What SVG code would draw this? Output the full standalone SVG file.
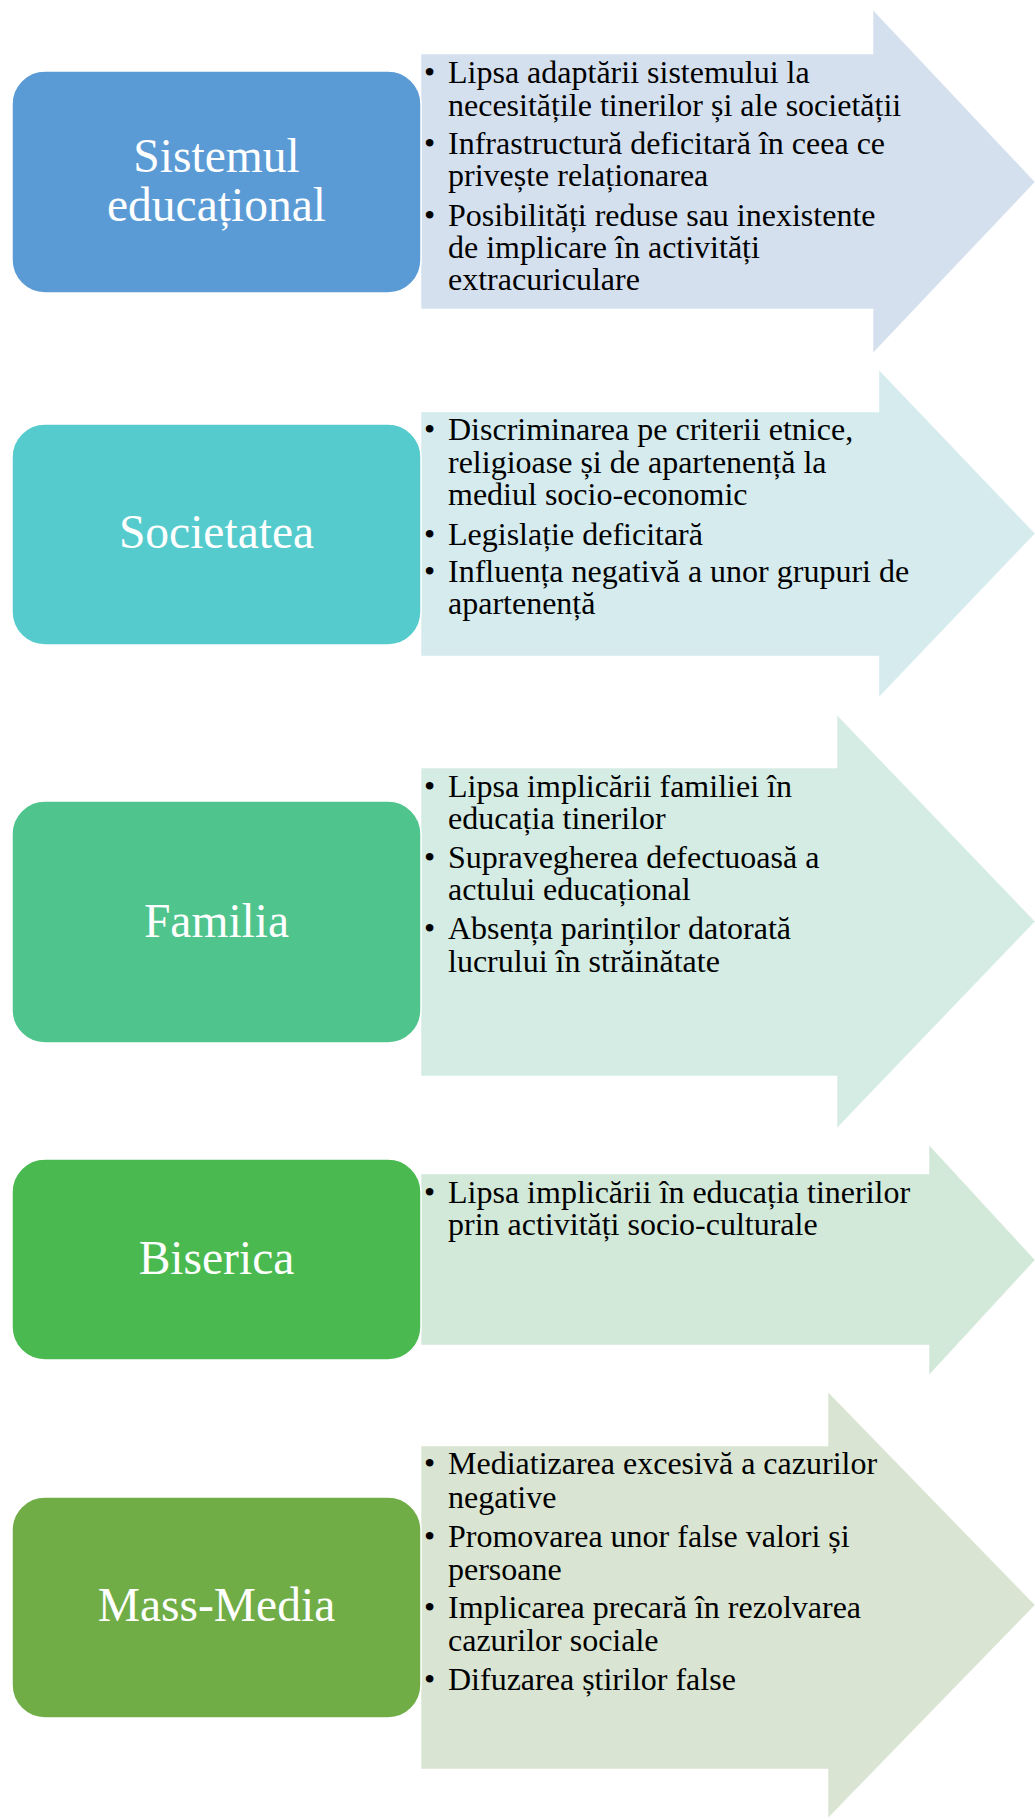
<svg xmlns="http://www.w3.org/2000/svg" width="1035" height="1819" viewBox="0 0 1035 1819">
<style>
.box{stroke:#ffffff;stroke-width:1.5}
.arr{stroke:#ffffff;stroke-opacity:0.5;stroke-width:1}
.lbl{font-family:"Liberation Serif","Times New Roman",serif;font-size:47.5px;fill:#ffffff;text-anchor:middle}
.bt{font-family:"Liberation Serif","Times New Roman",serif;font-size:32px;fill:#000000}
</style>
<rect width="1035" height="1819" fill="#ffffff"/>
<g id="connectors">
<polygon class="arr" fill="#D5E0EF" points="421,54 873,54 873,10 1035,182 873,353 873,309 421,309"/>
<polygon class="arr" fill="#D5EBEE" points="421,412 879,412 879,370 1035,533.5 879,697 879,656 421,656"/>
<polygon class="arr" fill="#D4ECE3" points="421,768 837,768 837,715 1035,921.5 837,1128 837,1076 421,1076"/>
<polygon class="arr" fill="#D2E8D8" points="421,1174 929,1174 929,1145 1035,1260 929,1375 929,1345 421,1345"/>
<polygon class="arr" fill="#D9E5D2" points="421,1446 828,1446 828,1392 1035,1605 828,1818 828,1769 421,1769"/>
</g>
<g id="node-sistemul">
<rect class="box" x="12" y="71" width="409" height="222" rx="33" fill="#5B9BD5"/>
<text class="lbl" x="216.5" y="172">Sistemul</text>
<text class="lbl" x="216.5" y="221">educațional</text>
</g>
<g id="list-sistemul" class="bt">
<text x="424" y="83">•</text><text x="448" y="83">Lipsa adaptării sistemului la</text>
<text x="448" y="115.5">necesitățile tinerilor și ale societății</text>
<text x="424" y="154">•</text><text x="448" y="154">Infrastructură deficitară în ceea ce</text>
<text x="448" y="186">privește relaționarea</text>
<text x="424" y="226">•</text><text x="448" y="226">Posibilități reduse sau inexistente</text>
<text x="448" y="257.5">de implicare în activități</text>
<text x="448" y="290">extracuriculare</text>
</g>
<g id="node-societatea">
<rect class="box" x="12" y="424" width="409" height="221" rx="33" fill="#56CBCD"/>
<text class="lbl" x="216.5" y="548">Societatea</text>
</g>
<g id="list-societatea" class="bt">
<text x="424" y="440">•</text><text x="448" y="440">Discriminarea pe criterii etnice,</text>
<text x="448" y="473">religioase și de apartenență la</text>
<text x="448" y="505">mediul socio-economic</text>
<text x="424" y="545">•</text><text x="448" y="545">Legislație deficitară</text>
<text x="424" y="582">•</text><text x="448" y="582">Influența negativă a unor grupuri de</text>
<text x="448" y="614">apartenență</text>
</g>
<g id="node-familia">
<rect class="box" x="12" y="801" width="409" height="242" rx="33" fill="#4FC48D"/>
<text class="lbl" x="216.5" y="937">Familia</text>
</g>
<g id="list-familia" class="bt">
<text x="424" y="797">•</text><text x="448" y="797">Lipsa implicării familiei în</text>
<text x="448" y="829">educația tinerilor</text>
<text x="424" y="868">•</text><text x="448" y="868">Supravegherea defectuoasă a</text>
<text x="448" y="900">actului educațional</text>
<text x="424" y="939">•</text><text x="448" y="939">Absența parinților datorată</text>
<text x="448" y="971.5">lucrului în străinătate</text>
</g>
<g id="node-biserica">
<rect class="box" x="12" y="1159" width="409" height="201" rx="33" fill="#4ABA50"/>
<text class="lbl" x="216.5" y="1274">Biserica</text>
</g>
<g id="list-biserica" class="bt">
<text x="424" y="1203">•</text><text x="448" y="1203">Lipsa implicării în educația tinerilor</text>
<text x="448" y="1235">prin activități socio-culturale</text>
</g>
<g id="node-massmedia">
<rect class="box" x="12" y="1497" width="409" height="221" rx="33" fill="#70AD47"/>
<text class="lbl" x="216.5" y="1621">Mass-Media</text>
</g>
<g id="list-massmedia" class="bt">
<text x="424" y="1474">•</text><text x="448" y="1474">Mediatizarea excesivă a cazurilor</text>
<text x="448" y="1507.5">negative</text>
<text x="424" y="1546.5">•</text><text x="448" y="1546.5">Promovarea unor false valori și</text>
<text x="448" y="1579.5">persoane</text>
<text x="424" y="1617.5">•</text><text x="448" y="1617.5">Implicarea precară în rezolvarea</text>
<text x="448" y="1650.5">cazurilor sociale</text>
<text x="424" y="1689.5">•</text><text x="448" y="1689.5">Difuzarea știrilor false</text>
</g>
</svg>
